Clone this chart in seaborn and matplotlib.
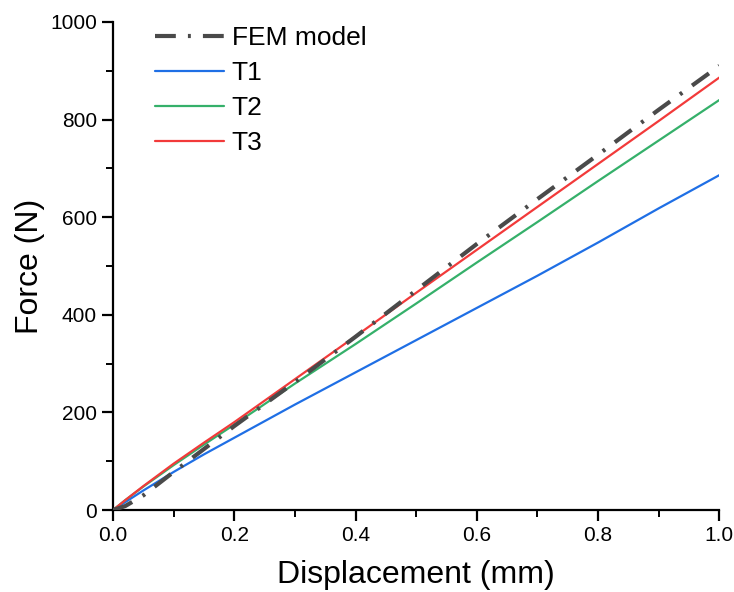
import numpy as np
import pandas as pd
import matplotlib
matplotlib.use("Agg")
import matplotlib.pyplot as plt
import seaborn as sns

# displacement (mm) sample points
disp = [0.0, 0.02, 0.05, 0.1, 0.15, 0.2, 0.3, 0.4, 0.5, 0.6, 0.7, 0.8, 0.9, 1.0]
fem = [0, 8, 30, 78, 125, 172, 262, 355, 450, 545, 637, 728, 820, 910]
t1 = [0, 16, 40, 78, 114, 148, 216, 282, 348, 414, 480, 548, 618, 686]
t2 = [0, 20, 48, 92, 134, 175, 259, 340, 423, 507, 590, 674, 757, 840]
t3 = [0, 20, 49, 95, 138, 180, 268, 356, 445, 533, 621, 709, 797, 886]

series = {"FEM model": fem, "T1": t1, "T2": t2, "T3": t3}
colors = {"FEM model": "#4a4a4a", "T1": "#1f6fe5", "T2": "#35b06a", "T3": "#f23a3a"}

sns.set_theme(style="ticks")
plt.rcParams['font.family'] = ['Liberation Sans', 'DejaVu Sans']
plt.rcParams['text.color'] = 'black'
plt.rcParams['axes.labelcolor'] = 'black'

fig = plt.figure(figsize=(7.34, 5.92), dpi=100)
ax = fig.add_axes([0.154, 0.1385, 0.826, 0.8245])

for name, vals in series.items():
    df = pd.DataFrame({"Displacement": disp, "Force": vals})
    if name == "FEM model":
        sns.lineplot(data=df, x="Displacement", y="Force", ax=ax, color=colors[name],
                     lw=3, label=name, zorder=5)
        ax.lines[-1].set_dashes([5, 2.9, 0.7, 2.9])
    else:
        sns.lineplot(data=df, x="Displacement", y="Force", ax=ax, color=colors[name],
                     lw=1.6, label=name)

ax.set_xlim(0, 1.0)
ax.set_ylim(0, 1000)
ax.set_xticks([0, 0.2, 0.4, 0.6, 0.8, 1.0])
ax.set_xticks(np.arange(0.1, 1.0, 0.2), minor=True)
ax.set_yticks([0, 200, 400, 600, 800, 1000])
ax.set_yticks(np.arange(100, 1000, 200), minor=True)
ax.xaxis.set_major_formatter(matplotlib.ticker.FormatStrFormatter('%.1f'))
ax.tick_params(which='major', direction='out', length=8, width=1.6, labelsize=15,
               color='black', labelcolor='black')
ax.tick_params(which='minor', direction='out', length=5, width=1.4, color='black')
for s in ['top', 'right']:
    ax.spines[s].set_visible(False)
for s in ['left', 'bottom']:
    ax.spines[s].set_linewidth(1.6)
    ax.spines[s].set_color('black')

ax.set_xlabel("Displacement (mm)", fontsize=23, labelpad=11)
ax.set_ylabel("Force (N)", fontsize=23, labelpad=4)

leg = ax.legend(loc='upper left', bbox_to_anchor=(0.03, 1.04), frameon=False,
                fontsize=19, handlelength=2.6, labelspacing=0.42, handletextpad=0.3)

fig.savefig("out.png", dpi=100)
